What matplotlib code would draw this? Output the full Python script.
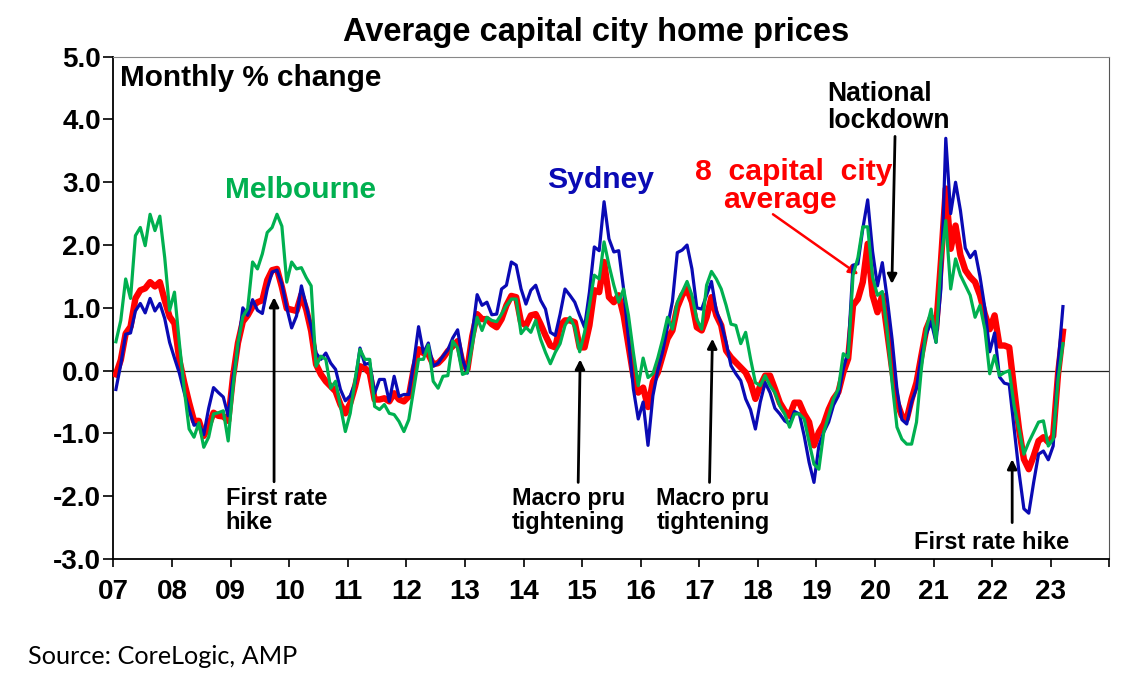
import matplotlib
matplotlib.use("Agg")
import matplotlib.pyplot as plt
import numpy as np

plt.rcParams['font.family'] = ['Liberation Sans', 'DejaVu Sans']

# monthly % change, Jan 2007 .. Mar 2023
year_labels = ["07", "08", "09", "10", "11", "12", "13", "14", "15",
               "16", "17", "18", "19", "20", "21", "22", "23"]

sydney = [
    -0.30, 0.10, 0.58, 0.60, 0.95, 1.07, 0.92, 1.15, 0.95, 1.07, 0.83, 0.45,
    0.20, -0.04, -0.35, -0.62, -0.87, -0.85, -1.02, -0.60, -0.27, -0.35, -0.42, -0.72,
    -0.10, 0.38, 1.00, 0.88, 1.13, 0.96, 0.91, 1.30, 1.57, 1.60, 1.38, 1.00,
    0.68, 0.87, 1.35, 1.03, 0.70, 0.28, 0.18, 0.28, 0.12, 0.02, -0.30, -0.48,
    -0.40, -0.20, 0.36, 0.10, 0.12, -0.36, -0.14, -0.14, -0.49, -0.09, -0.41, -0.38,
    -0.38, 0.12, 0.70, 0.28, 0.44, 0.07, 0.12, 0.23, 0.33, 0.52, 0.65, 0.18,
    -0.04, 0.60, 1.21, 1.04, 1.09, 0.89, 0.90, 1.30, 1.36, 1.73, 1.68, 1.30,
    1.06, 1.28, 1.36, 1.12, 0.98, 0.61, 0.56, 0.90, 1.30, 1.20, 1.09, 0.88,
    0.69, 1.25, 1.97, 1.91, 2.69, 2.10, 1.89, 1.91, 1.30, 0.50, -0.29, -0.77,
    -0.50, -1.19, -0.40, 0.00, 0.30, 0.70, 1.10, 1.88, 1.92, 2.00, 1.62, 1.00,
    0.98, 1.20, 1.42, 0.95, 0.75, 0.45, 0.08, -0.05, -0.16, -0.45, -0.62, -0.93,
    -0.50, -0.19, -0.35, -0.60, -0.69, -0.80, -0.85, -0.65, -0.69, -1.04, -1.46, -1.78,
    -1.20, -0.98, -0.82, -0.55, -0.40, 0.03, 0.30, 1.68, 1.70, 2.26, 2.72, 1.90,
    1.35, 1.72, 1.15, 0.50, -0.30, -0.78, -0.85, -0.50, -0.28, 0.25, 0.58, 0.78,
    0.45, 1.30, 3.70, 2.50, 3.00, 2.55, 1.95, 1.80, 1.90, 1.50, 1.00, 0.30,
    0.60, -0.10, -0.20, -0.22, -0.92, -1.62, -2.20, -2.27, -1.78, -1.33, -1.28, -1.42,
    -1.20, 0.10, 1.02,
]

melbourne = [
    0.46, 0.80, 1.46, 1.15, 2.15, 2.28, 1.99, 2.49, 2.23, 2.46, 1.80, 0.96,
    1.25, 0.44, -0.30, -0.93, -1.06, -0.83, -1.22, -1.06, -0.69, -0.67, -0.64, -1.12,
    -0.25, 0.44, 0.86, 0.99, 1.73, 1.62, 1.86, 2.20, 2.28, 2.49, 2.30, 1.41,
    1.73, 1.62, 1.64, 1.48, 1.35, 0.07, 0.23, 0.18, -0.28, -0.17, -0.57, -0.97,
    -0.68, -0.14, 0.34, 0.18, 0.18, -0.57, -0.62, -0.54, -0.68, -0.70, -0.81, -0.97,
    -0.78, -0.30, 0.18, 0.18, 0.41, -0.17, -0.28, -0.09, -0.08, 0.47, 0.36, -0.06,
    -0.03, 0.40, 0.85, 0.64, 0.85, 0.80, 0.78, 0.90, 1.04, 1.14, 1.14, 0.59,
    0.69, 0.61, 0.80, 0.50, 0.29, 0.11, 0.29, 0.43, 0.72, 0.85, 0.69, 0.30,
    0.61, 1.04, 1.52, 1.46, 2.05, 1.68, 1.36, 1.09, 1.30, 0.88, 0.29, -0.24,
    0.20, -0.11, -0.05, 0.20, 0.50, 0.85, 0.66, 1.09, 1.25, 1.42, 1.20, 0.82,
    0.66, 1.36, 1.58, 1.46, 1.30, 1.04, 0.74, 0.72, 0.43, 0.61, 0.19, -0.19,
    -0.24, -0.08, -0.24, -0.35, -0.56, -0.69, -0.90, -0.69, -0.69, -0.77, -1.14, -1.49,
    -1.57, -0.98, -0.72, -0.45, -0.29, 0.27, 0.21, 1.52, 1.80, 2.29, 2.29, 1.49,
    1.20, 1.26, 0.61, -0.19, -0.90, -1.09, -1.17, -1.17, -0.82, 0.03, 0.66, 0.98,
    0.45, 1.73, 2.39, 1.30, 1.78, 1.52, 1.36, 1.20, 0.85, 1.04, 0.66, -0.05,
    0.24, -0.08, -0.03, 0.00, -0.56, -0.93, -1.33, -1.14, -0.98, -0.82, -0.80, -1.20,
    -1.09, -0.13, 0.43,
]

capitals = [
    -0.06, 0.17, 0.59, 0.70, 1.15, 1.28, 1.31, 1.41, 1.34, 1.41, 1.12, 0.86,
    0.75, 0.17, -0.19, -0.51, -0.80, -0.80, -1.04, -0.88, -0.67, -0.72, -0.73, -0.80,
    -0.09, 0.44, 0.78, 0.88, 1.02, 1.09, 1.12, 1.44, 1.60, 1.62, 1.33, 0.99,
    0.97, 0.95, 1.21, 0.97, 0.63, 0.10, -0.06, -0.17, -0.25, -0.33, -0.54, -0.68,
    -0.52, -0.25, 0.07, 0.04, -0.04, -0.46, -0.46, -0.44, -0.49, -0.36, -0.46, -0.49,
    -0.41, 0.02, 0.34, 0.28, 0.26, 0.10, 0.12, 0.20, 0.31, 0.39, 0.47, 0.12,
    0.02, 0.55, 0.90, 0.82, 0.82, 0.74, 0.69, 0.82, 1.04, 1.19, 1.17, 0.77,
    0.72, 0.88, 0.90, 0.74, 0.56, 0.40, 0.37, 0.72, 0.80, 0.80, 0.77, 0.37,
    0.37, 0.72, 1.28, 1.25, 1.73, 1.17, 1.09, 1.20, 0.88, 0.40, -0.08, -0.35,
    -0.27, -0.58, -0.18, -0.03, 0.24, 0.51, 0.64, 1.01, 1.20, 1.30, 1.09, 0.69,
    0.64, 0.85, 1.17, 0.88, 0.72, 0.32, 0.21, 0.13, 0.05, -0.03, -0.19, -0.45,
    -0.24, -0.08, -0.08, -0.29, -0.51, -0.64, -0.72, -0.51, -0.51, -0.69, -0.82, -1.19,
    -0.98, -0.85, -0.62, -0.45, -0.34, -0.03, 0.19, 1.04, 1.14, 1.41, 2.02, 1.20,
    0.93, 1.20, 0.61, 0.03, -0.50, -0.72, -0.77, -0.45, -0.19, 0.24, 0.66, 0.85,
    0.66, 1.73, 2.90, 1.94, 2.31, 1.84, 1.60, 1.49, 1.41, 1.20, 0.90, 0.66,
    0.88, 0.40, 0.40, 0.37, -0.29, -0.93, -1.41, -1.57, -1.36, -1.12, -1.06, -1.14,
    -1.04, -0.05, 0.62,
]

months = np.arange(len(sydney))

BLUE = "#0A0AB4"
GREEN = "#00B050"
RED = "#FF0000"

fig = plt.figure(figsize=(11.38, 6.91), dpi=100)
ax = fig.add_axes([0.0997, 0.191, 0.8751, 0.727])

ax.plot(months, capitals, color=RED, lw=4.6, zorder=3, solid_joinstyle='round')
ax.plot(months, sydney, color=BLUE, lw=2.3, zorder=4)
ax.plot(months, melbourne, color=GREEN, lw=2.3, zorder=5)
ax.axhline(0, color='#222222', lw=0.9, zorder=2)

ax.set_xlim(-0.5, 203.5)
ax.set_ylim(-3, 5)
ax.set_yticks(np.arange(-3, 6, 1))
ax.set_yticklabels([f"{v:.1f}" for v in np.arange(-3, 6, 1)])
ax.set_xticks(-0.5 + 12 * np.arange(18))
ax.set_xticklabels(year_labels + [""])
ax.tick_params(axis='y', direction='out', length=7, width=1.2, pad=2,
               labelsize=20)
ax.tick_params(axis='x', direction='out', length=5.5, width=1.2, pad=9,
               labelsize=20)
for lab in ax.get_xticklabels() + ax.get_yticklabels():
    lab.set_fontweight('bold')

ax.spines['left'].set_linewidth(1.3)
ax.spines['bottom'].set_linewidth(1.3)
ax.spines['top'].set_color('#888888')
ax.spines['right'].set_color('#555555')

fig.text(596 / 1138, 1 - 32 / 691, "Average capital city home prices",
         ha='center', va='center', fontsize=23.5, fontweight='bold')
fig.text(28 / 1138, 1 - 657 / 691, "Source: CoreLogic, AMP",
         ha='left', va='center', fontsize=18.2, family=['Lato', 'DejaVu Sans'])

ax.text(0.8, 4.66, "Monthly % change", ha='left', va='center',
        fontsize=21.4, fontweight='bold')
ax.text(37.9, 2.87, "Melbourne", color=GREEN, ha='center', va='center',
        fontsize=21.5, fontweight='bold')
ax.text(99.2, 3.03, "Sydney", color=BLUE, ha='center', va='center',
        fontsize=21.7, fontweight='bold')
ax.text(138.9, 3.17, "8  capital  city", color=RED, ha='center',
        va='center', fontsize=21.7, fontweight='bold')
ax.text(136.0, 2.72, "average", color=RED, ha='center',
        va='center', fontsize=21.7, fontweight='bold')
ax.text(145.7, 4.19, "National\nlockdown", ha='left', va='center',
        fontsize=19.2, fontweight='bold', linespacing=1.05)
ax.text(22.5, -2.23, "First rate\nhike", ha='left', va='center',
        fontsize=17, fontweight='bold', linespacing=1.05)
ax.text(81.1, -2.23, "Macro pru\ntightening", ha='left', va='center',
        fontsize=16.8, fontweight='bold', linespacing=1.05)
ax.text(110.7, -2.23, "Macro pru\ntightening", ha='left', va='center',
        fontsize=16.8, fontweight='bold', linespacing=1.05)
ax.text(163.5, -2.74, "First rate hike", ha='left', va='center',
        fontsize=17, fontweight='bold')

arrow_k = dict(arrowstyle='-|>', color='k', lw=2, mutation_scale=14,
               shrinkA=0, shrinkB=0)
ax.annotate("", xy=(32.4, 1.17), xytext=(32.4, -1.77), arrowprops=arrow_k)
ax.annotate("", xy=(95.1, 0.18), xytext=(94.7, -1.78), arrowprops=arrow_k)
ax.annotate("", xy=(122.2, 0.51), xytext=(121.6, -1.78), arrowprops=arrow_k)
ax.annotate("", xy=(158.96, 1.38), xytext=(159.6, 3.73), arrowprops=arrow_k)
ax.annotate("", xy=(183.6, -1.41), xytext=(183.6, -2.42), arrowprops=arrow_k)
ax.annotate("", xy=(152.1, 1.53), xytext=(134.6, 2.49),
            arrowprops=dict(arrowstyle='-|>', color=RED, lw=1.8,
                            mutation_scale=14, shrinkA=0, shrinkB=0))

fig.savefig("out.png", dpi=100)
